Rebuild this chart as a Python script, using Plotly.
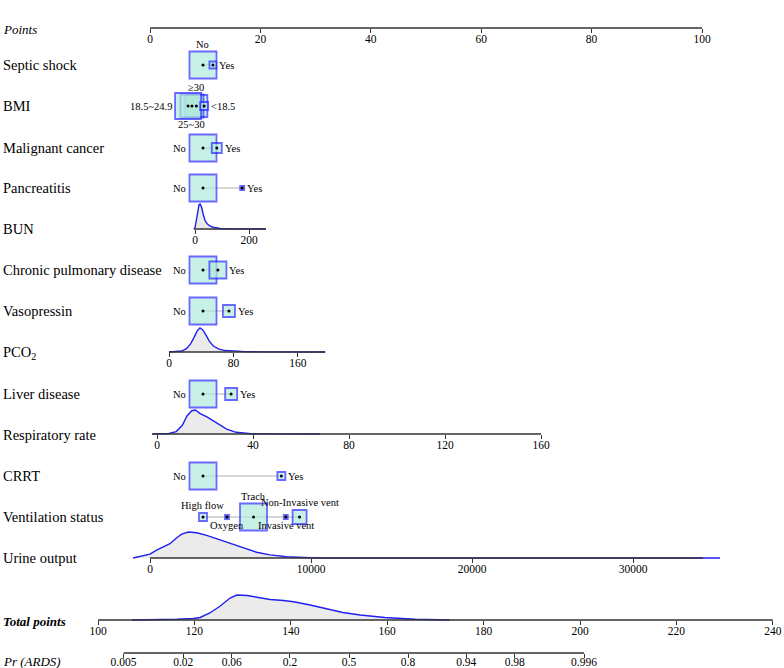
import numpy as np
import plotly.graph_objects as go

# ------------------------------------------------------------------ data
points_ticks = [0, 20, 40, 60, 80, 100]
total_ticks = [100, 120, 140, 160, 180, 200, 220, 240]
pr_ticks = [0.005, 0.02, 0.06, 0.2, 0.5, 0.8, 0.94, 0.98, 0.996]
pr_labels = ["0.005", "0.02", "0.06", "0.2", "0.5", "0.8", "0.94", "0.98", "0.996"]

# categorical predictors: level names, points, box size (relative frequency, px)
septic_levels = ["No", "Yes"]
septic_points = [9.6, 11.4]
septic_box = [27, 7]

bmi_levels = ["18.5~24.9", "25~30", "≥30", "<18.5"]
bmi_points = [6.9, 7.6, 8.4, 9.8]
bmi_box = [26, 23, 22, 8]

malignant_levels = ["No", "Yes"]
malignant_points = [9.6, 12.1]
malignant_box = [27, 10]

pancreatitis_levels = ["No", "Yes"]
pancreatitis_points = [9.6, 16.7]
pancreatitis_box = [27, 4]

copd_levels = ["No", "Yes"]
copd_points = [9.6, 12.3]
copd_box = [27, 17]

vaso_levels = ["No", "Yes"]
vaso_points = [9.6, 14.3]
vaso_box = [27, 12]

liver_levels = ["No", "Yes"]
liver_points = [9.6, 14.7]
liver_box = [27, 12]

crrt_levels = ["No", "Yes"]
crrt_points = [9.6, 23.8]
crrt_box = [27, 8]

vent_levels = ["High flow", "Oxygen", "Trach", "Invasive vent", "Non-Invasive vent"]
vent_points = [9.6, 13.95, 18.75, 24.6, 27.1]
vent_box = [8, 4, 27, 4, 14]

# continuous predictors: axis ticks and density curves (value, relative height)
bun_ticks = [0, 200]
bun_x = [-4, 0, 5, 10, 15, 19, 25, 30, 37, 44, 55, 67, 80, 93, 110, 140, 180, 263]
bun_d = [0, 0.05, 0.35, 0.75, 0.97, 1.0, 0.85, 0.6, 0.35, 0.22, 0.12, 0.07, 0.04, 0.02, 0.01, 0.005, 0, 0]

pco2_ticks = [0, 80, 160]
pco2_x = [0, 10, 16, 22, 27, 31, 35, 38.5, 42, 46, 50, 55, 62, 70, 80, 95, 115, 140, 194]
pco2_d = [0, 0.01, 0.04, 0.15, 0.35, 0.6, 0.88, 1.0, 0.92, 0.7, 0.45, 0.25, 0.12, 0.06, 0.03, 0.015, 0.005, 0, 0]

resp_ticks = [0, 40, 80, 120, 160]
resp_x = [-2, 5, 8, 10.5, 12.5, 14.5, 16, 18, 21, 25, 29, 33, 39, 50, 68]
resp_d = [0, 0.02, 0.1, 0.35, 0.75, 0.97, 1.0, 0.85, 0.7, 0.45, 0.2, 0.07, 0.01, 0.005, 0]

urine_ticks = [0, 10000, 20000, 30000]
urine_x = [-1050, -430, 0, 410, 830, 1240, 1660, 1970, 2380, 2900, 3520, 4140, 4970,
           5800, 6620, 7450, 8490, 9520, 10560, 20000, 35400]
urine_d = [0, 0.08, 0.15, 0.3, 0.42, 0.55, 0.78, 0.92, 1.0, 0.97, 0.87, 0.74, 0.55,
           0.37, 0.22, 0.12, 0.05, 0.02, 0.0, 0, 0]

total_x = [107, 112, 116.4, 119.8, 121.2, 123.2, 125.3, 127.4, 128.8, 130.9, 133.6, 135.7,
           138.5, 140.6, 144, 147.5, 150.8, 154.4, 159.5, 165.8, 173]
total_d = [0, 0.01, 0.03, 0.06, 0.1, 0.28, 0.55, 0.88, 1.0, 0.98, 0.9, 0.82,
           0.78, 0.73, 0.6, 0.45, 0.3, 0.2, 0.1, 0.03, 0]

# ------------------------------------------------------------------ style / layout
W, H = 784, 668
FONT = "Liberation Serif"
BOX_FILL = "#b0eadd"
BOX_LINE = "#2a2aff"
DENS_FILL = "#ebebeb"
DENS_LINE = "#2020f0"
AXIS_COL = "#333333"
CONNECT = "#c8c8c8"
ROW_FONT = 14.5
ITAL_FONT = 13
CAT_FONT = 10.5
TICK_FONT = 11.5

# axis mapping: value v0 sits at pixel px0, 'scale' px per unit, axis at pixel row y
axes = {
    "x":  dict(v0=0, px0=150, scale=5.52, y=28, tickvals=points_ticks, line=(0, 100)),
    "x2": dict(v0=0, px0=195, scale=0.27, y=229, tickvals=bun_ticks, line=(-4, 263)),
    "x3": dict(v0=0, px0=169, scale=0.805, y=352, tickvals=pco2_ticks, line=(0, 194)),
    "x4": dict(v0=0, px0=157, scale=2.4, y=434, tickvals=resp_ticks, line=(-2, 160)),
    "x5": dict(v0=0, px0=150, scale=0.0161, y=558, tickvals=urine_ticks, line=(0, 34350)),
    "x6": dict(v0=100, px0=98, scale=4.82, y=620, tickvals=total_ticks, line=(100, 240)),
}
for a in axes.values():
    a["ticktext"] = [str(v) for v in a["tickvals"]]
    a["standoff"] = -4
pr_logit = np.log(np.array(pr_ticks) / (1 - np.array(pr_ticks)))
axes["x7"] = dict(v0=0, px0=349, scale=42.6, y=653, tickvals=list(pr_logit),
                  ticktext=pr_labels, line=(pr_logit[0], pr_logit[-1]), standoff=-6)

cat_rows = [
    ("Septic shock", 65, septic_levels, septic_points, septic_box, ["top", "right"]),
    ("BMI", 106, bmi_levels, bmi_points, bmi_box, ["left", "bottom", "top", "right"]),
    ("Malignant cancer", 148, malignant_levels, malignant_points, malignant_box, ["left", "right"]),
    ("Pancreatitis", 188, pancreatitis_levels, pancreatitis_points, pancreatitis_box, ["left", "right"]),
    ("Chronic pulmonary disease", 270, copd_levels, copd_points, copd_box, ["left", "right"]),
    ("Vasopressin", 311, vaso_levels, vaso_points, vaso_box, ["left", "right"]),
    ("Liver disease", 394, liver_levels, liver_points, liver_box, ["left", "right"]),
    ("CRRT", 476, crrt_levels, crrt_points, crrt_box, ["left", "right"]),
    ("Ventilation status", 517, vent_levels, vent_points, vent_box,
     ["top", "bottom", "top", "bottom", "top"]),
]
draw_order = {"BMI": [2, 1, 0, 3]}

cont_rows = [
    ("BUN", "x2", 229, bun_x, bun_d, 25),
    ("PCO<sub>2</sub>", "x3", 352, pco2_x, pco2_d, 24),
    ("Respiratory rate", "x4", 434, resp_x, resp_d, 24),
    ("Urine output", "x5", 558, urine_x, urine_d, 26),
    ("Total points", "x6", 620, total_x, total_d, 25),
]

label_rows = [("<i>Points</i>", 29, ITAL_FONT), ("Septic shock", 65, ROW_FONT), ("BMI", 106, ROW_FONT),
              ("Malignant cancer", 148, ROW_FONT), ("Pancreatitis", 188, ROW_FONT), ("BUN", 229, ROW_FONT),
              ("Chronic pulmonary disease", 270, ROW_FONT), ("Vasopressin", 311, ROW_FONT),
              ("PCO<sub>2</sub>", 353, ROW_FONT), ("Liver disease", 394, ROW_FONT),
              ("Respiratory rate", 435, ROW_FONT), ("CRRT", 476, ROW_FONT),
              ("Ventilation status", 517, ROW_FONT), ("Urine output", 558, ROW_FONT),
              ("<b><i>Total points</i></b>", 621, ITAL_FONT), ("<i>Pr (ARDS)</i>", 661, ITAL_FONT)]

fig = go.Figure()
annotations = []

# continuous rows: density fill, density outline
for name, xa, ry, xs, ds, h in cont_rows:
    top = [ry - h * d for d in ds]
    fig.add_trace(go.Scatter(x=list(xs) + list(xs[::-1]), y=top + [ry] * len(xs),
                             xaxis=xa, yaxis="y", mode="lines", fill="toself",
                             fillcolor=DENS_FILL, line=dict(width=0), hoverinfo="skip"))
    fig.add_trace(go.Scatter(x=xs, y=top, xaxis=xa, yaxis="y", mode="lines",
                             line=dict(color=DENS_LINE, width=1.4), hoverinfo="skip"))

# axis lines
for key, a in axes.items():
    fig.add_trace(go.Scatter(x=list(a["line"]), y=[a["y"], a["y"]], xaxis=key, yaxis="y",
                             mode="lines", line=dict(color=AXIS_COL, width=1.3), hoverinfo="skip"))

# categorical rows
dot_x, dot_y = [], []
for name, ry, levels, pts, box, pos in cat_rows:
    fig.add_trace(go.Scatter(x=[min(pts), max(pts)], y=[ry, ry], xaxis="x", yaxis="y",
                             mode="lines", line=dict(color=CONNECT, width=1.5), hoverinfo="skip"))
    order = draw_order.get(name, sorted(range(len(pts)), key=lambda i: -box[i]))
    fig.add_trace(go.Scatter(x=[pts[i] for i in order], y=[ry] * len(order), xaxis="x", yaxis="y",
                             mode="markers",
                             marker=dict(symbol="square", size=[box[i] for i in order],
                                         color=BOX_FILL, line=dict(color=BOX_LINE, width=1.8)),
                             hoverinfo="skip"))
    dot_x += list(pts)
    dot_y += [ry] * len(pts)
    for lv, p, s, ps in zip(levels, pts, box, pos):
        ann = dict(x=p, y=ry, xref="x", yref="y", text=lv, showarrow=False,
                   font=dict(family=FONT, size=CAT_FONT, color="black"))
        if ps == "left":
            ann.update(xanchor="right", yanchor="middle", xshift=-(s / 2 + 1))
        elif ps == "right":
            ann.update(xanchor="left", yanchor="middle", xshift=s / 2 + 1)
        elif ps == "top":
            ann.update(xanchor="center", yanchor="bottom", yshift=s / 2)
        else:
            ann.update(xanchor="center", yanchor="top", yshift=-(s / 2 - 1))
        annotations.append(ann)

fig.add_trace(go.Scatter(x=dot_x, y=dot_y, xaxis="x", yaxis="y", mode="markers",
                         marker=dict(color="black", size=3), hoverinfo="skip"))

for text, ry, fs in label_rows:
    annotations.append(dict(x=1 / W, xref="paper", y=ry, yref="y", text=text, showarrow=False,
                            xanchor="left", yanchor="middle",
                            font=dict(family=FONT, size=fs, color="black")))

layout = dict(width=W, height=H, margin=dict(l=0, r=0, t=0, b=0, autoexpand=False),
              showlegend=False, paper_bgcolor="white", plot_bgcolor="white", hovermode=False,
              annotations=annotations,
              yaxis=dict(range=[H, 0], domain=[0, 1], visible=False, fixedrange=True,
                         automargin=False))
for key, a in axes.items():
    rng = [a["v0"] - a["px0"] / a["scale"], a["v0"] + (W - a["px0"]) / a["scale"]]
    ax = dict(range=rng, domain=[0, 1], anchor="free", position=1 - a["y"] / H,
              tickmode="array", tickvals=a["tickvals"], ticktext=a["ticktext"],
              showgrid=False, zeroline=False, automargin=False,
              showline=False, ticks="outside", ticklen=4, tickwidth=1, tickcolor=AXIS_COL,
              ticklabelstandoff=a["standoff"],
              tickfont=dict(family=FONT, size=TICK_FONT, color="black"), fixedrange=True)
    if key != "x":
        ax["overlaying"] = "x"
    layout["xaxis" if key == "x" else "xaxis" + key[1:]] = ax

fig.update_layout(**layout)
fig.write_html("out.html", config={"displayModeBar": False},
               post_script="document.body.style.margin='0';document.body.style.overflow='hidden';")
